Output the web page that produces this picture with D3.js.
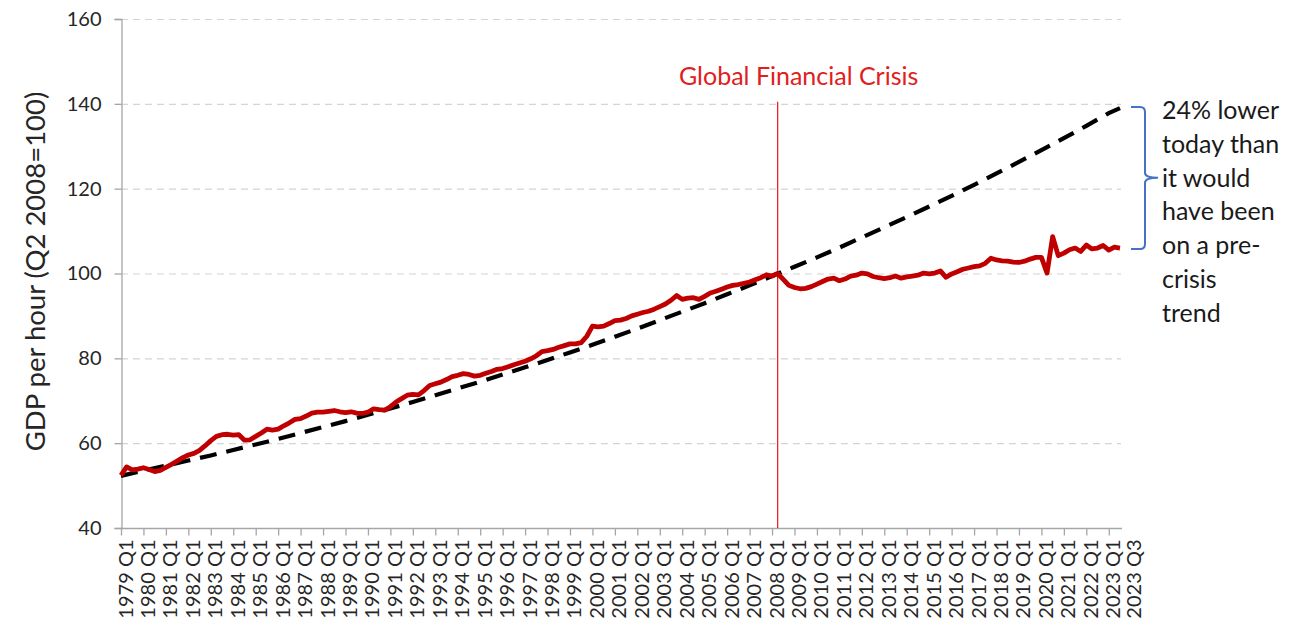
<!DOCTYPE html>
<html>
<head>
<meta charset="utf-8">
<script src="https://cdn.jsdelivr.net/npm/d3@7"></script>
<style>
  body { margin: 0; background: #fff; }
  svg { display: block; font-family: Lato, "Noto Sans", sans-serif; }
</style>
</head>
<body>
<svg id="chart" width="1309" height="626"></svg>
<script>
// quarterly categories 1979 Q1 .. 2023 Q3
const startYear = 1979
const endYear = 2023
const lastQuarter = 3
const quarters = []
for (let yr = startYear; yr <= endYear; yr++) {
    for (let q = 1; q <= 4; q++) {
        if (yr === endYear && q > lastQuarter) break
        quarters.push(`${yr} Q${q}`)
    }
}

// GDP per hour, Q2 2008 = 100, one row per year (Q1..Q4)
const gdpPerHour = [
    52.4, 54.4, 53.7, 53.9,
    54.2, 53.8, 53.3, 53.6,
    54.3, 55.0, 55.8, 56.6,
    57.2, 57.6, 58.3, 59.4,
    60.6, 61.6, 62.0, 62.1,
    61.9, 62.0, 60.7, 60.8,
    61.6, 62.4, 63.3, 63.1,
    63.3, 64.1, 64.8, 65.6,
    65.8, 66.4, 67.1, 67.3,
    67.3, 67.5, 67.7, 67.4,
    67.2, 67.4, 67.1, 67.0,
    67.3, 68.1, 67.9, 67.8,
    68.6, 69.7, 70.5, 71.3,
    71.5, 71.4, 72.4, 73.6,
    74.0, 74.4, 75.0, 75.7,
    76.0, 76.4, 76.2, 75.8,
    76.0, 76.5, 76.9, 77.4,
    77.6, 78.0, 78.5, 78.9,
    79.3, 79.9, 80.6, 81.6,
    81.8, 82.1, 82.6, 83.0,
    83.4, 83.4, 83.7, 85.2,
    87.6, 87.4, 87.6, 88.2,
    88.9, 89.0, 89.4, 90.0,
    90.4, 90.8, 91.1, 91.6,
    92.2, 92.8, 93.7, 94.8,
    93.9, 94.2, 94.3, 93.9,
    94.6, 95.4, 95.8, 96.3,
    96.8, 97.2, 97.4, 97.7,
    98.0, 98.5, 99.0, 99.7,
    99.4, 100.0, 98.6, 97.2,
    96.7, 96.4, 96.5, 96.9,
    97.5, 98.1, 98.7, 98.9,
    98.3, 98.7, 99.4, 99.6,
    100.1, 99.9, 99.3, 99.0,
    98.8, 99.0, 99.4, 98.9,
    99.2, 99.4, 99.6, 100.1,
    99.9, 100.1, 100.6, 99.1,
    99.9, 100.4, 101.0, 101.3,
    101.6, 101.8, 102.4, 103.6,
    103.2, 103.0, 102.9, 102.7,
    102.6, 102.9, 103.4, 103.8,
    103.8, 100.1, 108.7, 104.2,
    104.8, 105.6, 106.0, 105.2,
    106.7, 105.8, 106.0, 106.6,
    105.5, 106.2, 106.0
]

// pre-crisis trend, read at each Q1 and at the last quarter
const trendQuarters = []
for (let yr = startYear; yr <= endYear; yr++) trendQuarters.push(`${yr} Q1`)
trendQuarters.push('2023 Q3')
const trendValues = [
    52.3, 53.5, 54.7, 55.9, 57.1, 58.4, 59.7, 61.0, 62.4, 63.8,
    65.2, 66.7, 68.2, 69.7, 71.3, 72.9, 74.5, 76.2, 77.9, 79.6,
    81.4, 83.2, 85.1, 87.0, 89.0, 91.0, 93.0, 95.1, 97.2, 99.4,
    101.6, 103.8, 106.1, 108.5, 110.9, 113.3, 115.8, 118.3, 120.9, 123.6,
    126.3, 129.1, 131.9, 134.8, 137.8, 139.0
]

const yTicks = [40, 60, 80, 100, 120, 140, 160]
const crisisQuarter = '2008 Q2'
const crisisLabel = 'Global Financial Crisis'
const yTitle = 'GDP per hour (Q2 2008=100)'
const noteLines = ['24% lower', 'today than', 'it would', 'have been', 'on a pre-', 'crisis', 'trend']

const margin = { left: 121, right: 189, top: 19, bottom: 98 }
const size = { width: 1309, height: 626 }

const svg = d3.select('#chart')

const x = d3.scalePoint()
    .domain(quarters)
    .range([margin.left, size.width - margin.right])

const y = d3.scaleLinear()
    .domain([40, 160])
    .range([size.height - margin.bottom, margin.top])

// gridlines
svg.append('g')
    .selectAll('line')
    .data(yTicks.slice(1))
    .enter()
    .append('line')
    .attr('x1', margin.left)
    .attr('x2', size.width - margin.right + 1)
    .attr('y1', d => y(d) + 0.5)
    .attr('y2', d => y(d) + 0.5)
    .attr('stroke', '#d4d4d4')
    .attr('stroke-width', 1.2)
    .attr('stroke-dasharray', '7,5')

// y axis
const yAxis = d3.axisLeft(y).tickValues(yTicks).tickSize(7).tickPadding(13)
const gy = svg.append('g')
    .attr('transform', `translate(${margin.left + 0.5}, 0)`)
    .call(yAxis)
gy.select('.domain').attr('stroke', '#a6a6a6').attr('stroke-width', 1.3)
gy.selectAll('.tick line').attr('stroke', '#a6a6a6').attr('stroke-width', 1.3)
gy.selectAll('.tick text')
    .attr('fill', '#262626')
    .style('font-size', '20px')
    .style('font-family', 'Lato')

// x axis
const xLabels = quarters.filter((d, i) => d.endsWith('Q1') || i === quarters.length - 1)
const xAxis = d3.axisBottom(x)
    .tickValues(xLabels)
    .tickSizeOuter(0)
    .tickSize(7)
const gx = svg.append('g')
    .attr('transform', `translate(0, ${y(40) + 0.5})`)
    .call(xAxis)
gx.select('.domain')
    .attr('stroke', '#a6a6a6')
    .attr('stroke-width', 1.3)
    .attr('d', `M${margin.left},0H${size.width - margin.right + 2}`)
gx.selectAll('.tick line')
    .attr('stroke', d => d.endsWith('Q1') ? '#a6a6a6' : 'none')
    .attr('stroke-width', 1.3)
gx.selectAll('.tick text')
    .attr('fill', '#262626')
    .style('font-size', '20px')
    .style('font-family', 'Lato')
    .attr('text-anchor', 'end')
    .attr('dy', '0.35em')
    .attr('transform', d => `translate(${d.endsWith('Q1') ? 4 : 13}, 11) rotate(-90)`)
    .attr('x', 0)
    .attr('y', 0)

// y title
svg.append('text')
    .attr('transform', `translate(45, ${y(100) - 2}) rotate(-90)`)
    .attr('text-anchor', 'middle')
    .attr('fill', '#262626')
    .style('font-size', '27.5px')
    .text(yTitle)

// crisis marker
svg.append('line')
    .attr('x1', x(crisisQuarter))
    .attr('x2', x(crisisQuarter))
    .attr('y1', y(140) - 2)
    .attr('y2', y(40))
    .attr('stroke', '#e8262a')
    .attr('stroke-width', 1.3)

svg.append('text')
    .attr('x', x(crisisQuarter) + 21)
    .attr('y', y(140) - 19)
    .attr('text-anchor', 'middle')
    .attr('fill', '#e0201b')
    .style('font-size', '25px')
    .text(crisisLabel)

// series
const line = d3.line()
    .x(d => x(d[0]))
    .y(d => y(d[1]))

svg.append('path')
    .datum(trendQuarters.map((q, i) => [q, trendValues[i]]))
    .attr('d', line)
    .attr('fill', 'none')
    .attr('stroke', '#000')
    .attr('stroke-width', 4.2)
    .attr('stroke-dasharray', '17,10')

svg.append('path')
    .datum(quarters.map((q, i) => [q, gdpPerHour[i]]))
    .attr('d', line)
    .attr('fill', 'none')
    .attr('stroke', '#c00000')
    .attr('stroke-width', 4.8)
    .attr('stroke-linejoin', 'round')

// brace between trend and actual end values
const bx = size.width - margin.right + 11
const braceTop = y(trendValues[trendValues.length - 1]) - 1
const braceBot = y(gdpPerHour[gdpPerHour.length - 1]) + 1
const braceMid = y(122.6)
const r = 5
svg.append('path')
    .attr('d', `M${bx},${braceTop} h${9} q${r},0 ${r},${r} V${braceMid - r} q0,${r} ${r + 8},${r}` +
        ` M${bx + 9 + r},${braceMid + r} q0,${-r} ${r + 8},${-r}` +
        ` M${bx + 9 + r},${braceMid + r} V${braceBot - r} q0,${r} ${-r},${r} h${-9}`)
    .attr('fill', 'none')
    .attr('stroke', '#4472c4')
    .attr('stroke-width', 2)

svg.append('g')
    .selectAll('text')
    .data(noteLines)
    .enter()
    .append('text')
    .attr('x', 1162)
    .attr('y', (d, i) => 119 + i * 33.8)
    .attr('fill', '#1a1a1a')
    .style('font-size', '25px')
    .text(d => d)
</script>
</body>
</html>
